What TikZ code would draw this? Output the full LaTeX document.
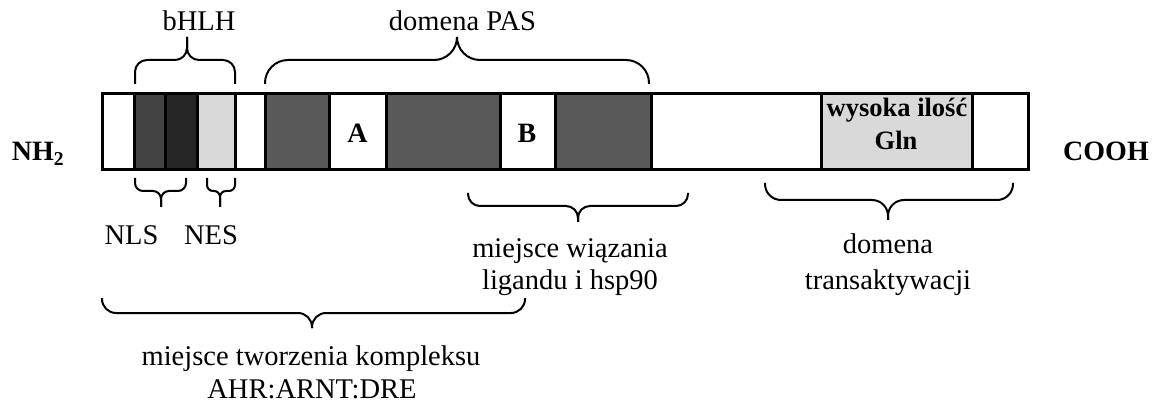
\documentclass[tikz,border=0pt]{standalone}
\usepackage{fontspec}
\setmainfont{Liberation Serif}
\newcommand{\mybrc}[7]{%
  \path[brc, rounded corners=#7pt] (#1,#4) -- (#1,#5) -- (#3,#5) -- (#3,#6);
  \path[brc, rounded corners=#7pt] (#2,#4) -- (#2,#5) -- (#3,#5) -- (#3,#6);}
\begin{document}
\begin{tikzpicture}[x=1pt,y=-1pt,
  seg/.style={draw, line width=3pt, rectangle, inner sep=0pt, outer sep=0pt, minimum height=76pt},
  txt/.style={font=\fontsize{28.5}{34}\selectfont, inner sep=0pt, anchor=base},
  btxt/.style={font=\fontsize{28}{34}\selectfont\bfseries, inner sep=0pt, anchor=base},
  gtxt/.style={font=\fontsize{26.5}{30}\selectfont\bfseries, inner sep=0pt, anchor=base},
  brc/.style={draw, line width=2pt}]
\definecolor{dgray}{HTML}{434343}
\definecolor{ddgray}{HTML}{262626}
\definecolor{mgray}{HTML}{595959}
\definecolor{lgray}{HTML}{D9D9D9}
\useasboundingbox (0,0) rectangle (1165,406);
% bar segments
\node[seg, fill=white, minimum width=32.4pt] (s1) at (118.5,131.7) {};
\node[seg, fill=dgray, minimum width=31.1pt] (s2) at (150.25,131.7) {};
\node[seg, fill=ddgray, minimum width=31.5pt] (s3) at (181.55,131.7) {};
\node[seg, fill=lgray, minimum width=37.7pt] (s4) at (216.15,131.7) {};
\node[seg, fill=white, minimum width=30.8pt] (s5) at (250.4,131.7) {};
\node[seg, fill=mgray, minimum width=63.2pt] (s6) at (297.4,131.7) {};
\node[seg, fill=white, minimum width=57.7pt] (s7) at (357.85,131.7) {};
\node[seg, fill=mgray, minimum width=113.3pt] (s8) at (443.35,131.7) {};
\node[seg, fill=white, minimum width=55pt] (s9) at (527.5,131.7) {};
\node[seg, fill=mgray, minimum width=96pt] (s10) at (603,131.7) {};
\node[seg, fill=white, minimum width=170pt] (s11) at (736,131.7) {};
\node[seg, fill=lgray, minimum width=151.3pt] (s12) at (896.65,131.7) {};
\node[seg, fill=white, minimum width=56.2pt] (s13) at (1000.4,131.7) {};
% labels inside bar
\node[btxt] (lA) at (357.5,142.7) {A};
\node[btxt] (lB) at (527,142.7) {B};
\node[gtxt] (lw) at (897,116.7) {wysoka ilość};
\node[gtxt] (lg) at (896,150) {Gln};
% ends
\node[btxt] (nh) at (38,161) {NH\textsubscript{2}};
\node[btxt] (co) at (1106,161) {COOH};
% braces
\mybrc{135}{235}{187}{84}{60}{37}{12}
\mybrc{265}{649}{457}{84}{60}{37}{23}
\mybrc{135}{186}{161}{178}{191}{207}{8}
\mybrc{207}{235}{220}{178}{191}{207}{6}
\mybrc{468}{688}{578}{193}{206}{222}{12}
\mybrc{765}{1013}{888}{183}{200}{220}{16}
\mybrc{102}{525}{312}{298}{313}{328}{14}
% brace labels
\node[txt] (tb) at (199,31) {bHLH};
\node[txt] (tp) at (462.5,31) {domena PAS};
\node[txt] (tn1) at (131.5,244) {NLS};
\node[txt] (tn2) at (211,244) {NES};
\node[txt] (tl1) at (570,258) {miejsce wiązania};
\node[txt] (tl2) at (570,290) {ligandu i hsp90};
\node[txt] (tt1) at (888,254) {domena};
\node[txt] (tt2) at (888,289) {transaktywacji};
\node[txt] (tk1) at (311,365) {miejsce tworzenia kompleksu};
\node[txt] (tk2) at (312,398) {AHR:ARNT:DRE};
\end{tikzpicture}
\end{document}
